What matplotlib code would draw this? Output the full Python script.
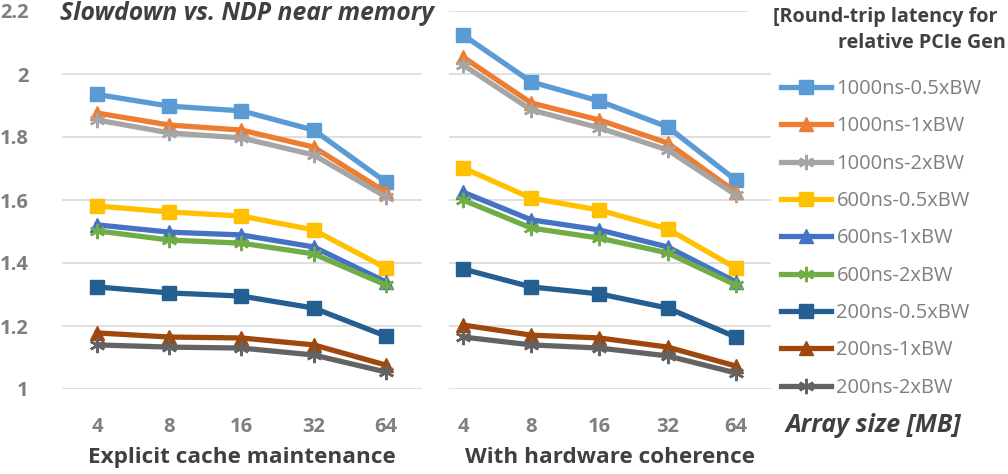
import matplotlib
matplotlib.use("Agg")
import matplotlib.pyplot as plt

plt.rcParams['font.family'] = ['Open Sans', 'DejaVu Sans']

sizes = ["4", "8", "16", "32", "64"]
series_names = ["1000ns-0.5xBW", "1000ns-1xBW", "1000ns-2xBW",
                "600ns-0.5xBW", "600ns-1xBW", "600ns-2xBW",
                "200ns-0.5xBW", "200ns-1xBW", "200ns-2xBW"]
colors = ["#5B9BD5", "#ED7D31", "#A5A5A5", "#FFC000", "#4472C4",
          "#70AD47", "#255E91", "#9E480E", "#636363"]
markers = ["s", "^", (6, 2, 0)] * 3

explicit = [
    [1.935, 1.898, 1.883, 1.822, 1.657],
    [1.876, 1.838, 1.822, 1.768, 1.625],
    [1.854, 1.813, 1.797, 1.743, 1.610],
    [1.581, 1.562, 1.549, 1.505, 1.384],
    [1.521, 1.498, 1.489, 1.451, 1.340],
    [1.502, 1.473, 1.463, 1.429, 1.330],
    [1.324, 1.305, 1.295, 1.257, 1.168],
    [1.178, 1.165, 1.162, 1.140, 1.076],
    [1.140, 1.133, 1.130, 1.108, 1.054],
]
coherent = [
    [2.124, 1.975, 1.914, 1.832, 1.663],
    [2.054, 1.908, 1.854, 1.781, 1.625],
    [2.029, 1.886, 1.829, 1.759, 1.616],
    [1.702, 1.606, 1.568, 1.508, 1.384],
    [1.625, 1.537, 1.505, 1.451, 1.340],
    [1.600, 1.511, 1.479, 1.432, 1.330],
    [1.381, 1.324, 1.302, 1.257, 1.165],
    [1.203, 1.171, 1.162, 1.133, 1.073],
    [1.165, 1.140, 1.130, 1.105, 1.051],
]
yticks = [1, 1.2, 1.4, 1.6, 1.8, 2, 2.2]
ytick_labels = ["1", "1.2", "1.4", "1.6", "1.8", "2", "2.2"]

W, H = 1008, 474
fig = plt.figure(figsize=(W / 100, H / 100), dpi=100)

def px_axes(x0, x1, y_top, y_bot):
    return fig.add_axes([x0 / W, 1 - y_bot / H, (x1 - x0) / W, (y_bot - y_top) / H])

axL = px_axes(62, 422, 11, 389)
axR = px_axes(449, 771, 11, 389)

TICK_C = "#7F7F7F"
DARK = "#404040"
GRID_C = "#D9D9D9"

def style(ax, data, xlim, xlabel):
    xs = list(range(len(sizes)))
    for vals, c, m, name in zip(data, colors, markers, series_names):
        kw = dict(color=c, lw=3.8, marker=m, ms=9.5 if m == "s" else 10.5,
                  mec=c, mfc=c, clip_on=False, label=name, solid_joinstyle='round')
        if m == (6, 2, 0):
            kw.update(mew=1.8, ms=11)
        ax.plot(xs, vals, **kw)
    ax.set_xlim(*xlim)
    ax.set_ylim(1, 2.2)
    ax.set_xticks(xs)
    ax.set_xticklabels(sizes)
    ax.set_yticks(yticks)
    for s in ax.spines.values():
        s.set_visible(False)
    ax.grid(axis='y', color=GRID_C, lw=1.2)
    ax.set_axisbelow(True)
    ax.tick_params(axis='both', length=0, colors=TICK_C, labelsize=14.5)
    for t in ax.get_xticklabels():
        t.set_fontweight('bold')
    ax.tick_params(axis='x', pad=20.5)
    ax.set_xlabel(xlabel, fontsize=16.2, fontweight='bold', color=DARK, labelpad=7)

style(axL, explicit, (-0.486, 4.5), "Explicit cache maintenance")
style(axR, coherent, (-0.205, 4.515), "With hardware coherence")

axL.set_yticklabels(ytick_labels)
for t in axL.get_yticklabels():
    t.set_fontweight('bold')
axL.tick_params(axis='y', pad=24)
axR.set_yticklabels([])

axL.get_ygridlines()[-1].set_visible(False)

fig.text(60 / W, 1 - 13 / H, "Slowdown vs. NDP near memory", fontsize=17.8,
         fontweight='bold', fontstyle='italic', color=DARK, va='center', ha='left')

fig.patches.append(plt.Rectangle((748 / W, 1 - 30 / H), 30 / W, 28 / H,
                                 transform=fig.transFigure, color='white', zorder=5))

fig.text(773 / W, 1 - 17 / H, "[Round-trip latency for", fontsize=14.2,
         fontweight='bold', color=DARK, va='center', ha='left', zorder=6)
fig.text(838 / W, 1 - 43 / H, "relative PCIe Gen", fontsize=14.2,
         fontweight='bold', color=DARK, va='center', ha='left', zorder=6)

handles, labels = axR.get_legend_handles_labels()
leg = fig.legend(handles, labels, loc='upper left',
                 bbox_to_anchor=(781 / W, 1 - 79 / H), frameon=False,
                 fontsize=14.5, labelcolor=TICK_C, handlelength=2.5,
                 handletextpad=0.25, labelspacing=0.86, borderpad=0,
                 borderaxespad=0, numpoints=1)

fig.text(785 / W, 1 - 425 / H, "Array size [MB]", fontsize=18,
         fontweight='bold', fontstyle='italic', color=DARK, va='center', ha='left')

fig.savefig("out.png", dpi=100)
